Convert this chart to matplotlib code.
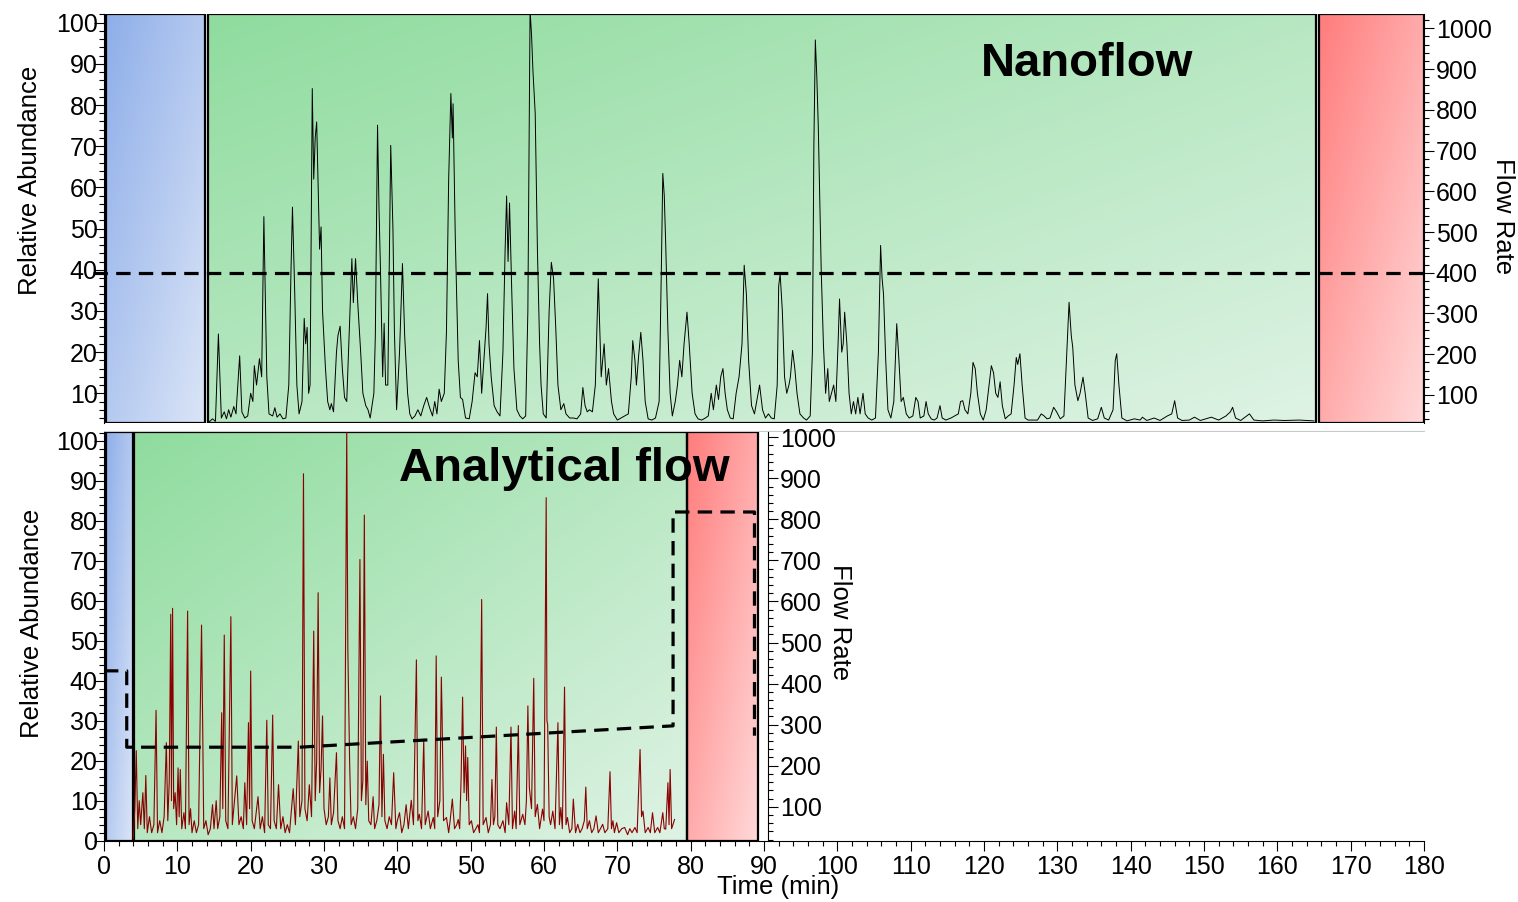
import numpy as np
import matplotlib
matplotlib.use('Agg')
import matplotlib.pyplot as plt
from matplotlib.patches import Rectangle
from matplotlib.ticker import MultipleLocator

plt.rcParams['font.family'] = ['Liberation Sans', 'DejaVu Sans']

# ---- data ------------------------------------------------------------------
# nanoflow chromatogram, (time min, relative abundance) vertices
nano_trace = [
    (14.3, 3.0), (14.8, 3.8), (15.2, 3.2), (15.6, 24.4), (16.0, 4.0), (16.4, 5.5),
    (16.7, 3.8), (17.0, 6.0), (17.3, 4.2), (17.7, 6.8), (18.0, 5.0), (18.5, 19.1),
    (18.8, 5.5), (19.2, 4.0), (19.6, 4.5), (20.0, 10.0), (20.3, 8.0), (20.5, 16.7),
    (20.8, 12.0), (21.2, 18.4), (21.5, 14.0), (21.8, 52.9), (22.2, 14.0), (22.5, 5.0),
    (23.0, 4.5), (23.3, 6.5), (23.6, 4.2), (24.0, 5.0), (24.4, 3.8), (24.8, 4.0),
    (25.2, 12.0), (25.5, 40.0), (25.7, 55.2), (26.0, 35.0), (26.3, 12.0), (26.6, 5.0),
    (27.0, 8.0), (27.3, 28.2), (27.5, 22.0), (27.7, 26.0), (27.9, 10.0), (28.1, 12.0),
    (28.4, 84.0), (28.6, 62.0), (28.8, 72.0), (29.0, 75.9), (29.2, 60.0), (29.4, 45.0),
    (29.6, 50.4), (29.8, 30.0), (30.2, 16.0), (30.5, 8.0), (30.8, 6.0), (31.0, 7.5),
    (31.3, 5.5), (31.7, 20.0), (31.9, 24.0), (32.2, 26.3), (32.5, 16.0), (32.8, 9.0),
    (33.1, 8.0), (33.3, 18.0), (33.5, 28.0), (33.8, 42.7), (34.0, 32.0), (34.3, 42.7),
    (34.6, 32.0), (35.0, 20.0), (35.3, 10.0), (35.7, 7.0), (36.0, 6.0), (36.3, 4.0),
    (36.8, 10.0), (37.0, 24.0), (37.3, 75.1), (37.5, 55.0), (37.7, 40.0), (38.0, 14.0),
    (38.2, 27.0), (38.4, 12.0), (38.7, 12.0), (39.1, 70.2), (39.4, 50.0), (39.6, 25.0),
    (39.9, 6.0), (40.3, 20.0), (40.7, 41.5), (41.0, 24.0), (41.4, 10.0), (41.7, 5.0),
    (42.0, 3.8), (42.4, 4.5), (42.8, 6.0), (43.2, 4.5), (43.6, 7.0), (44.0, 9.0),
    (44.4, 6.5), (44.8, 4.5), (45.1, 8.0), (45.4, 5.0), (45.7, 11.0), (46.0, 8.0),
    (46.4, 10.0), (46.7, 25.0), (47.0, 62.0), (47.3, 82.8), (47.5, 72.0), (47.6, 80.3),
    (47.9, 48.0), (48.3, 18.0), (48.6, 9.0), (48.9, 8.5), (49.3, 4.0), (49.8, 3.8),
    (50.2, 8.0), (50.6, 15.0), (50.9, 14.0), (51.2, 22.8), (51.5, 10.0), (51.8, 18.0),
    (52.1, 26.0), (52.3, 34.2), (52.5, 22.0), (52.8, 14.0), (53.2, 7.0), (53.6, 5.5),
    (54.0, 4.5), (54.4, 20.0), (54.7, 45.0), (54.9, 57.9), (55.1, 42.0), (55.3, 56.2),
    (55.6, 35.0), (55.9, 16.0), (56.3, 6.0), (56.7, 4.5), (57.1, 3.8), (57.5, 4.5),
    (57.8, 30.0), (58.1, 103.0), (58.3, 97.0), (58.5, 88.0), (58.8, 78.0), (59.1, 45.0),
    (59.4, 22.0), (59.6, 12.0), (59.9, 5.0), (60.3, 4.0), (60.7, 30.0), (61.0, 41.8),
    (61.3, 38.0), (61.6, 26.0), (61.9, 12.0), (62.3, 6.0), (62.7, 7.5), (63.0, 5.0),
    (63.5, 4.0), (64.0, 4.0), (64.5, 3.8), (65.0, 5.0), (65.3, 11.4), (65.6, 7.0),
    (65.9, 5.5), (66.2, 6.0), (66.6, 5.5), (67.0, 12.0), (67.4, 37.8), (67.6, 26.0),
    (67.8, 14.0), (68.2, 22.0), (68.5, 12.0), (68.8, 16.0), (69.2, 8.0), (69.5, 5.0),
    (70.0, 3.5), (70.5, 4.0), (71.0, 4.5), (71.5, 5.0), (71.9, 14.0), (72.1, 22.8),
    (72.4, 18.0), (72.6, 12.0), (72.9, 19.0), (73.2, 24.8), (73.5, 18.0), (73.8, 8.0),
    (74.2, 3.8), (74.7, 3.5), (75.2, 4.0), (75.7, 8.0), (76.0, 40.0), (76.2, 63.4),
    (76.4, 58.0), (76.6, 46.0), (76.9, 25.0), (77.2, 10.0), (77.5, 4.5), (77.9, 8.0),
    (78.2, 12.0), (78.5, 18.0), (78.8, 14.0), (79.1, 22.0), (79.5, 29.7), (79.8, 22.0),
    (80.2, 10.0), (80.6, 5.0), (81.0, 3.8), (81.5, 3.5), (82.0, 4.0), (82.4, 4.5),
    (82.8, 10.0), (83.1, 6.0), (83.5, 12.0), (83.8, 8.5), (84.1, 14.0), (84.4, 16.0),
    (84.7, 10.0), (85.0, 6.0), (85.4, 4.0), (85.8, 3.8), (86.2, 10.0), (86.6, 14.0),
    (87.0, 22.0), (87.3, 41.1), (87.6, 34.0), (87.9, 18.0), (88.3, 7.0), (88.7, 5.0),
    (89.0, 8.0), (89.4, 12.0), (89.8, 6.0), (90.2, 4.0), (90.6, 5.0), (91.0, 4.0),
    (91.4, 3.8), (91.8, 12.0), (92.0, 36.0), (92.2, 39.0), (92.5, 30.0), (92.8, 14.0),
    (93.1, 10.0), (93.4, 12.0), (93.6, 14.0), (93.9, 20.4), (94.2, 16.0), (94.5, 10.0),
    (94.9, 5.0), (95.4, 4.0), (95.8, 3.5), (96.3, 4.5), (96.6, 20.0), (96.8, 70.0),
    (97.0, 95.8), (97.2, 87.0), (97.4, 75.0), (97.6, 57.0), (97.8, 40.0), (98.1, 22.0),
    (98.4, 10.0), (98.7, 16.0), (98.9, 8.0), (99.2, 10.0), (99.5, 12.0), (99.8, 8.0),
    (100.1, 22.0), (100.3, 32.9), (100.6, 20.0), (100.8, 22.0), (101.0, 29.7), (101.3, 22.0),
    (101.6, 10.0), (101.9, 5.0), (102.2, 8.0), (102.5, 5.0), (102.8, 9.0), (103.1, 5.0),
    (103.5, 10.0), (103.8, 5.0), (104.2, 4.0), (104.7, 3.5), (105.2, 4.0), (105.6, 20.0),
    (105.9, 45.9), (106.1, 38.0), (106.3, 34.0), (106.6, 18.0), (106.9, 6.0), (107.3, 4.0),
    (107.7, 8.0), (108.1, 26.9), (108.4, 18.0), (108.7, 8.0), (109.0, 9.0), (109.4, 5.0),
    (109.8, 4.0), (110.3, 4.5), (110.7, 9.0), (111.0, 8.0), (111.3, 4.0), (111.8, 4.5),
    (112.1, 8.0), (112.4, 5.0), (112.8, 3.8), (113.2, 3.5), (113.6, 4.0), (114.0, 7.0),
    (114.3, 4.0), (114.8, 3.5), (115.5, 4.0), (116.0, 4.5), (116.5, 5.0), (116.8, 8.0),
    (117.1, 8.2), (117.4, 6.0), (117.8, 5.0), (118.2, 10.0), (118.5, 17.5), (118.8, 16.0),
    (119.1, 10.0), (119.5, 5.0), (119.9, 3.5), (120.3, 6.0), (120.7, 12.0), (121.0, 16.7),
    (121.3, 15.0), (121.6, 10.0), (121.9, 9.0), (122.2, 12.8), (122.5, 7.0), (122.9, 3.8),
    (123.3, 4.5), (123.7, 5.0), (124.1, 12.0), (124.4, 18.7), (124.6, 17.0), (124.9, 19.6),
    (125.2, 12.0), (125.6, 4.0), (126.0, 3.5), (126.6, 3.5), (127.3, 3.5), (127.8, 5.0),
    (128.2, 4.5), (128.6, 3.8), (129.0, 4.0), (129.5, 6.6), (129.9, 5.5), (130.4, 3.8),
    (130.9, 4.5), (131.3, 20.0), (131.6, 32.1), (131.9, 24.0), (132.1, 21.2), (132.4, 12.0),
    (132.8, 8.2), (133.1, 10.0), (133.5, 13.9), (133.8, 10.0), (134.2, 4.0), (134.8, 3.4),
    (135.5, 3.8), (136.0, 6.6), (136.4, 4.0), (137.0, 3.5), (137.6, 6.0), (137.9, 18.0),
    (138.1, 19.6), (138.4, 12.0), (138.8, 4.0), (139.5, 3.3), (140.5, 3.8), (141.3, 3.5),
    (141.6, 4.2), (142.2, 3.4), (143.2, 4.0), (144.0, 3.4), (145.0, 4.5), (145.6, 5.0),
    (146.0, 8.2), (146.4, 4.0), (147.0, 3.4), (148.0, 3.5), (148.7, 4.2), (149.5, 3.4),
    (151.0, 4.2), (152.0, 3.5), (153.0, 4.5), (153.6, 5.5), (153.9, 6.6), (154.3, 4.0),
    (155.0, 3.4), (156.2, 5.0), (156.8, 3.5), (158.0, 3.3), (159.5, 3.5), (161.0, 3.4),
    (163.0, 3.5), (165.0, 3.3),
]

# analytical flow chromatogram, (time min, relative abundance) vertices
ana_trace = [
    (4.0, 0.5), (4.2, 8), (4.4, 22.5), (4.6, 3), (4.8, 10), (5.0, 4), (5.3, 12), (5.5, 3),
    (5.7, 16.3), (5.9, 2), (6.2, 6), (6.5, 2), (6.8, 4), (7.1, 32.6), (7.3, 2), (7.6, 5),
    (7.9, 2), (8.2, 6), (8.5, 24.5), (8.7, 5), (8.9, 15), (9.1, 56.6), (9.2, 10), (9.35, 58.1),
    (9.5, 8), (9.7, 12), (9.9, 4), (10.1, 18.2), (10.25, 6), (10.4, 17.8), (10.6, 3), (10.9, 7),
    (11.1, 3), (11.4, 57.4), (11.6, 4), (11.8, 8), (12.0, 2), (12.3, 5), (12.6, 2), (12.9, 4),
    (13.3, 53.9), (13.45, 30), (13.6, 3), (13.9, 5), (14.2, 1.5), (14.5, 3), (14.8, 9), (15.0, 3),
    (15.3, 10), (15.5, 3), (15.8, 6), (16.05, 32), (16.2, 8), (16.4, 51.4), (16.6, 5), (16.9, 3),
    (17.3, 56), (17.5, 4), (17.7, 8), (18.1, 16.2), (18.4, 4), (18.7, 6), (19.0, 3), (19.2, 14.5),
    (19.45, 4), (19.7, 29.5), (19.85, 8), (20.0, 42.4), (20.2, 5), (20.5, 3), (21.0, 11), (21.3, 3),
    (21.6, 6), (21.9, 2), (22.2, 30.1), (22.4, 4), (22.7, 3), (23.0, 31.4), (23.2, 5), (23.5, 3),
    (23.8, 14), (24.1, 3), (24.4, 6), (24.7, 2), (25.0, 4), (25.3, 2), (25.8, 13), (26.1, 4),
    (26.5, 24.9), (26.7, 6), (27.0, 10), (27.2, 91.75), (27.4, 8), (27.7, 5), (28.0, 14), (28.3, 6),
    (28.6, 52.4), (28.8, 10), (29.0, 20), (29.2, 62), (29.4, 12), (29.6, 18), (29.8, 31.2), (30.0, 8),
    (30.3, 4), (30.6, 6), (30.8, 15.7), (31.0, 4), (31.3, 7), (31.7, 22), (31.9, 5), (32.2, 3),
    (32.5, 6), (32.8, 3), (33.1, 103), (33.25, 48), (33.5, 19.1), (33.7, 4), (34.0, 6), (34.3, 3),
    (34.6, 8), (34.9, 70.3), (35.1, 10), (35.3, 15), (35.5, 81.4), (35.7, 9), (35.9, 19.9), (36.1, 5),
    (36.4, 4), (36.7, 11), (36.9, 3), (37.2, 5), (37.5, 9), (37.7, 36.2), (37.9, 6), (38.1, 21.6),
    (38.3, 5), (38.6, 3), (38.9, 6), (39.2, 4), (39.5, 17), (39.8, 3), (40.0, 5), (40.3, 7),
    (40.6, 2), (40.9, 4), (41.2, 9), (41.5, 3), (41.9, 10.1), (42.2, 4), (42.6, 45.2), (42.8, 5),
    (43.0, 6.6), (43.3, 3), (43.6, 25.3), (43.8, 4), (44.2, 7.4), (44.5, 3), (44.9, 5.8), (45.1, 3),
    (45.3, 46.2), (45.5, 6), (45.8, 10), (46.0, 40.9), (46.1, 31.6), (46.3, 5), (46.7, 5.8), (47.0, 2),
    (47.2, 5), (47.5, 10.4), (47.8, 3), (48.1, 4), (48.3, 5.3), (48.5, 3), (48.7, 15.8), (48.9, 35.9),
    (49.1, 12), (49.3, 23.7), (49.45, 10), (49.6, 20.8), (49.8, 4), (50.1, 5), (50.4, 2), (50.7, 3),
    (51.0, 4), (51.2, 2), (51.5, 60.3), (51.7, 4), (52.1, 5.8), (52.4, 2), (52.7, 4), (52.9, 15.3),
    (53.1, 4), (53.3, 6), (53.5, 28.4), (53.7, 4), (54.0, 3), (54.4, 5), (54.7, 2), (54.9, 9.5),
    (55.2, 4), (55.5, 28.4), (55.7, 3), (56.0, 7.4), (56.2, 3), (56.5, 28.8), (56.7, 4), (57.1, 6.6),
    (57.4, 4), (57.6, 10), (57.8, 33.7), (58.0, 13.3), (58.3, 8), (58.6, 40.6), (58.8, 6), (59.1, 9.1),
    (59.4, 3), (59.8, 7.9), (60.0, 5), (60.3, 85.75), (60.4, 30), (60.5, 29), (60.7, 6), (60.9, 4),
    (61.2, 7.4), (61.5, 3), (61.9, 29.5), (62.1, 4), (62.3, 8.3), (62.5, 3), (62.8, 38.4), (63.0, 4),
    (63.2, 5.8), (63.5, 2), (63.8, 3), (64.0, 10.4), (64.3, 2), (64.6, 4.1), (64.9, 2), (65.2, 3),
    (65.5, 5), (65.7, 13.4), (65.9, 3), (66.2, 5), (66.5, 2), (66.8, 3), (67.1, 6.2), (67.4, 2),
    (67.7, 3), (68.0, 4.1), (68.3, 2), (68.7, 3), (69.0, 17.25), (69.2, 3), (69.4, 5), (69.6, 2),
    (69.9, 4.5), (70.2, 2), (70.6, 3), (71.0, 3.3), (71.4, 1.5), (71.7, 3), (72.0, 2), (72.4, 3.3),
    (72.7, 2), (73.1, 22.8), (73.3, 6), (73.5, 7.4), (73.8, 2), (74.2, 3.3), (74.5, 2), (74.8, 7.0),
    (75.1, 2), (75.5, 3.3), (75.8, 2), (76.2, 7.0), (76.4, 3), (76.6, 2.9), (76.9, 14.5), (77.05, 4),
    (77.2, 17.8), (77.4, 3), (77.6, 4.1), (77.8, 5.3),
]

# flow rate programmes (right axes)
nano_flow_t = [-1.5, 180.3]
nano_flow = [400, 400]
ana_flow_t = [0, 3.1, 3.1, 26.7, 77.6, 77.6, 88.7, 88.7]
ana_flow = [431, 431, 245, 245, 297, 818, 818, 273]

# phases of each run: (start, end, colour name)
nano_phases = [(0.3, 13.8, 'blue'), (14.2, 165.3, 'green'), (165.7, 180.0, 'red')]
ana_phases = [(0.3, 3.9, 'blue'), (4.1, 79.5, 'green'), (79.5, 89.2, 'red')]

grad = {
    'blue': ((142, 174, 233), (219, 229, 247)),
    'green': ((143, 220, 158), (223, 243, 229)),
    'red': ((255, 124, 124), (255, 217, 217)),
}

W, H = 1518, 902
fig = plt.figure(figsize=(W / 100, H / 100), dpi=100)


def box(x0, y0, x1, y1):
    # pixel box (top-left origin) -> figure fraction rect
    return [x0 / W, 1 - y1 / H, (x1 - x0) / W, (y1 - y0) / H]


def shade(ax, t0, t1, y0, y1, cname):
    c0 = np.array(grad[cname][0]) / 255
    c1 = np.array(grad[cname][1]) / 255
    xn = np.linspace(0, 1, 300)
    yn = np.linspace(0, 1, 150)
    u = (xn[None, :] + yn[:, None]) / 2
    img = c0 + (c1 - c0) * u[..., None]
    ax.imshow(img, extent=(t0, t1, y0, y1), aspect='auto', origin='upper',
              interpolation='bilinear', zorder=0)
    ax.add_patch(Rectangle((t0, y0), t1 - t0, y1 - y0, fill=False,
                           ec='black', lw=1.6, zorder=1))


def style_left(ax):
    ax.yaxis.set_minor_locator(MultipleLocator(2))
    ax.tick_params(axis='y', which='major', direction='out', length=7, width=0.8,
                   labelsize=18, pad=-2.5)
    ax.tick_params(axis='y', which='minor', direction='out', length=3.5, width=0.8)


def style_right(ax):
    ax.set_yticks(range(100, 1001, 100))
    ax.yaxis.set_minor_locator(MultipleLocator(20))
    ax.tick_params(axis='y', which='major', direction='out', length=7, width=0.8,
                   labelsize=18, pad=1.5)
    ax.tick_params(axis='y', which='minor', direction='out', length=3.5, width=0.8)
    for s in ('left', 'top', 'bottom'):
        ax.spines[s].set_visible(False)


# ---- top panel: nanoflow ---------------------------------------------------
ax1 = fig.add_axes(box(104, 14, 1424, 422.7))
y1lim = (2.86, 102.1)
for t0, t1, c in nano_phases:
    shade(ax1, t0, t1, y1lim[0], y1lim[1], c)
nt, nv = zip(*nano_trace)
ax1.plot(nt, nv, color='black', lw=0.7, zorder=2)
ax1.set_xlim(0, 180)
ax1.set_ylim(*y1lim)
ax1.set_yticks(range(10, 101, 10))
style_left(ax1)
ax1.tick_params(axis='x', which='both', bottom=False, labelbottom=False)
ax1.spines['top'].set_visible(False)
ax1.spines['right'].set_visible(False)
ax1.spines['bottom'].set_color('#c8c8c8')
ax1.spines['bottom'].set_position(('outward', 6))

ax1r = ax1.twinx()
ax1r.set_ylim(32, 1035)
style_right(ax1r)
ax1r.plot(nano_flow_t, nano_flow, color='black', lw=2.3, ls=(0, (4.5, 2.6)),
          clip_on=False, zorder=3)

# ---- bottom panel: analytical flow ----------------------------------------
ax2 = fig.add_axes(box(104, 431.7, 1424, 840.7))
y2lim = (0, 102.25)
for t0, t1, c in ana_phases:
    shade(ax2, t0, t1, y2lim[0], y2lim[1], c)
at, av = zip(*ana_trace)
ax2.plot(at, av, color='#8b0000', lw=0.8, zorder=2)
ax2.set_xlim(0, 180)
ax2.set_ylim(*y2lim)
ax2.set_yticks(range(0, 101, 10))
style_left(ax2)
ax2.set_xticks(range(0, 181, 10))
ax2.xaxis.set_minor_locator(MultipleLocator(2))
ax2.tick_params(axis='x', which='major', direction='out', length=7, width=0.8,
                labelsize=18, pad=3)
ax2.tick_params(axis='x', which='minor', direction='out', length=3.5, width=0.8)
ax2.spines['top'].set_visible(False)
ax2.spines['right'].set_visible(False)

ax2r = ax2.twinx()
ax2r.set_ylim(17.2, 1013.6)
style_right(ax2r)
ax2r.spines['right'].set_position(('data', 90.6))
ax2r.plot(ana_flow_t, ana_flow, color='black', lw=2.3, ls=(0, (4.5, 2.6)), zorder=3)

# ---- titles and axis labels -----------------------------------------------
def ftext(x, y, s, **kw):
    fig.text(x / W, 1 - y / H, s, **kw)


ftext(1087.5, 75.7, 'Nanoflow', ha='center', va='baseline', fontsize=34, fontweight='bold')
ftext(564, 481.3, 'Analytical flow', ha='center', va='baseline', fontsize=34,
      fontweight='bold')
ftext(30, 180, 'Relative Abundance', rotation=90, ha='center', va='center', fontsize=18.5)
ftext(32, 623, 'Relative Abundance', rotation=90, ha='center', va='center', fontsize=18.5)
ftext(1503, 216, 'Flow Rate', rotation=270, ha='center', va='center', fontsize=18.5)
ftext(840, 622, 'Flow Rate', rotation=270, ha='center', va='center', fontsize=18.5)
ftext(778, 887, 'Time (min)', ha='center', va='center', fontsize=18.5)

fig.savefig('out.png', dpi=100)
